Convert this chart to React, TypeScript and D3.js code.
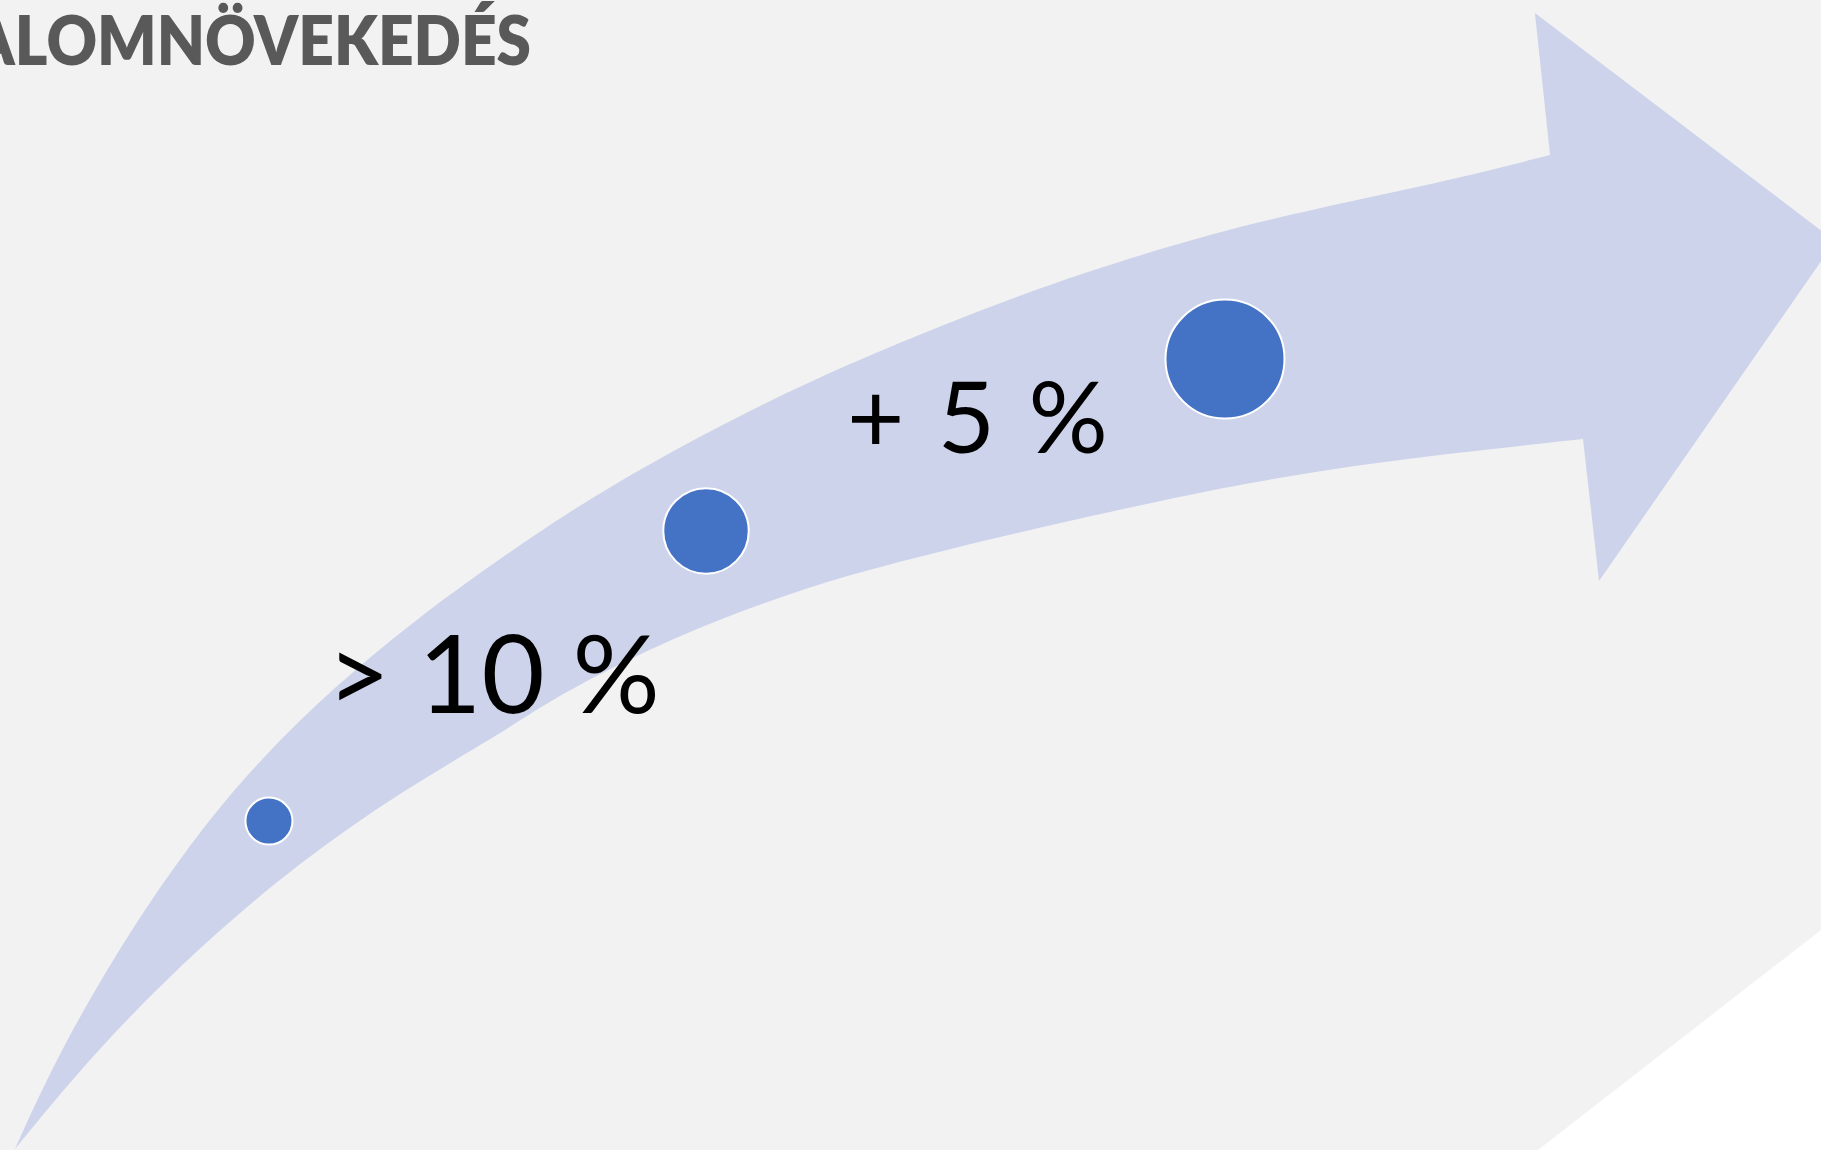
import React, { useMemo } from 'react';
import * as d3 from 'd3';

const WIDTH = 1821;
const HEIGHT = 1150;

// bubbles along the growth arrow (x, y in % of the slide, y going up)
const stages = ['Kezdet', 'Közép', 'Cél'];
const stageX = [14.77, 38.77, 67.27];
const stageY = [28.6, 53.83, 68.78];
const stageSize = [1, 3.3, 6.4];

// growth labels between the bubbles
const growthLabels = ['> 10 %', '+ 5 %'];
const growthX = [17.96, 46.51];
const growthY = [38.0, 60.61];

// arrow outline (same % units)
const arrowUpper: [number, number][] = [
  [0.82, 0.09], [3.29, 8.7], [7.14, 19.13], [10.98, 27.83], [14.28, 33.91],
  [17.57, 39.13], [22.68, 46.09], [30.2, 54.52], [35.69, 59.74], [41.19, 64.35],
  [46.68, 68.43], [52.17, 72.0], [59.25, 76.26], [69.03, 80.87], [78.86, 84.0],
  [85.12, 86.52],
];
const arrowHead: [number, number][] = [
  [84.29, 98.87], [100.77, 79.04], [87.81, 49.48], [86.93, 61.83],
];
const arrowLower: [number, number][] = [
  [86.93, 61.83], [76.88, 60.09], [71.39, 58.78], [65.9, 57.22], [57.66, 54.35],
  [52.17, 52.26], [46.68, 50.09], [41.19, 47.22], [35.69, 43.65], [30.2, 39.13],
  [27.84, 36.52], [21.97, 31.13], [16.47, 25.04], [10.98, 17.74], [5.27, 8.7],
  [0.82, 0.09],
];

const title = 'FORGALOMNÖVEKEDÉS';

const labelStyle = [
  { fontSize: 109, wordSpacing: 0 },
  { fontSize: 99, wordSpacing: 8 },
];

export default function App() {
  const x = useMemo(() => d3.scaleLinear().domain([0, 100]).range([0, WIDTH]), []);
  const y = useMemo(() => d3.scaleLinear().domain([0, 100]).range([HEIGHT, 0]), []);
  const r = useMemo(() => d3.scaleSqrt().domain([0, d3.max(stageSize)!]).range([0, 59.5]), []);

  const arrowPath = useMemo(() => {
    const edge = d3.line<[number, number]>()
      .x(d => x(d[0]))
      .y(d => y(d[1]))
      .curve(d3.curveBasis);
    const up = edge(arrowUpper)!;
    const head = arrowHead.map(d => `L${x(d[0])},${y(d[1])}`).join('');
    const low = edge(arrowLower)!.replace(/^M/, 'L');
    return up + head + low + 'Z';
  }, [x, y]);

  return (
    <svg
      width={WIDTH}
      height={HEIGHT}
      style={{ position: 'absolute', left: 0, top: 0, display: 'block' }}
    >
      <rect width={WIDTH} height={HEIGHT} fill="#f2f2f2" />
      <polygon
        points={`${WIDTH},930 ${WIDTH},${HEIGHT} 1538,${HEIGHT}`}
        fill="#ffffff"
      />

      <path d={arrowPath} fill="#cdd3eb" />

      <text
        x={531}
        y={65}
        textAnchor="end"
        fontFamily="Lato, 'Open Sans', sans-serif"
        fontWeight={800}
        fontSize={68}
        fill="#595959"
        transform="translate(531,0) scale(0.915,1) translate(-531,0)"
      >
        {title}
      </text>

      {growthLabels.map((t, i) => (
        <text
          key={t}
          x={x(growthX[i])}
          y={y(growthY[i])}
          fontFamily="Lato, 'Open Sans', sans-serif"
          fontSize={labelStyle[i].fontSize}
          wordSpacing={labelStyle[i].wordSpacing}
          fill="#000000"
        >
          {t}
        </text>
      ))}

      {stages.map((s, i) => (
        <circle
          key={s}
          cx={x(stageX[i])}
          cy={y(stageY[i])}
          r={r(stageSize[i])}
          fill="#4472c4"
          stroke="#ffffff"
          strokeWidth={2}
        />
      ))}
    </svg>
  );
}
